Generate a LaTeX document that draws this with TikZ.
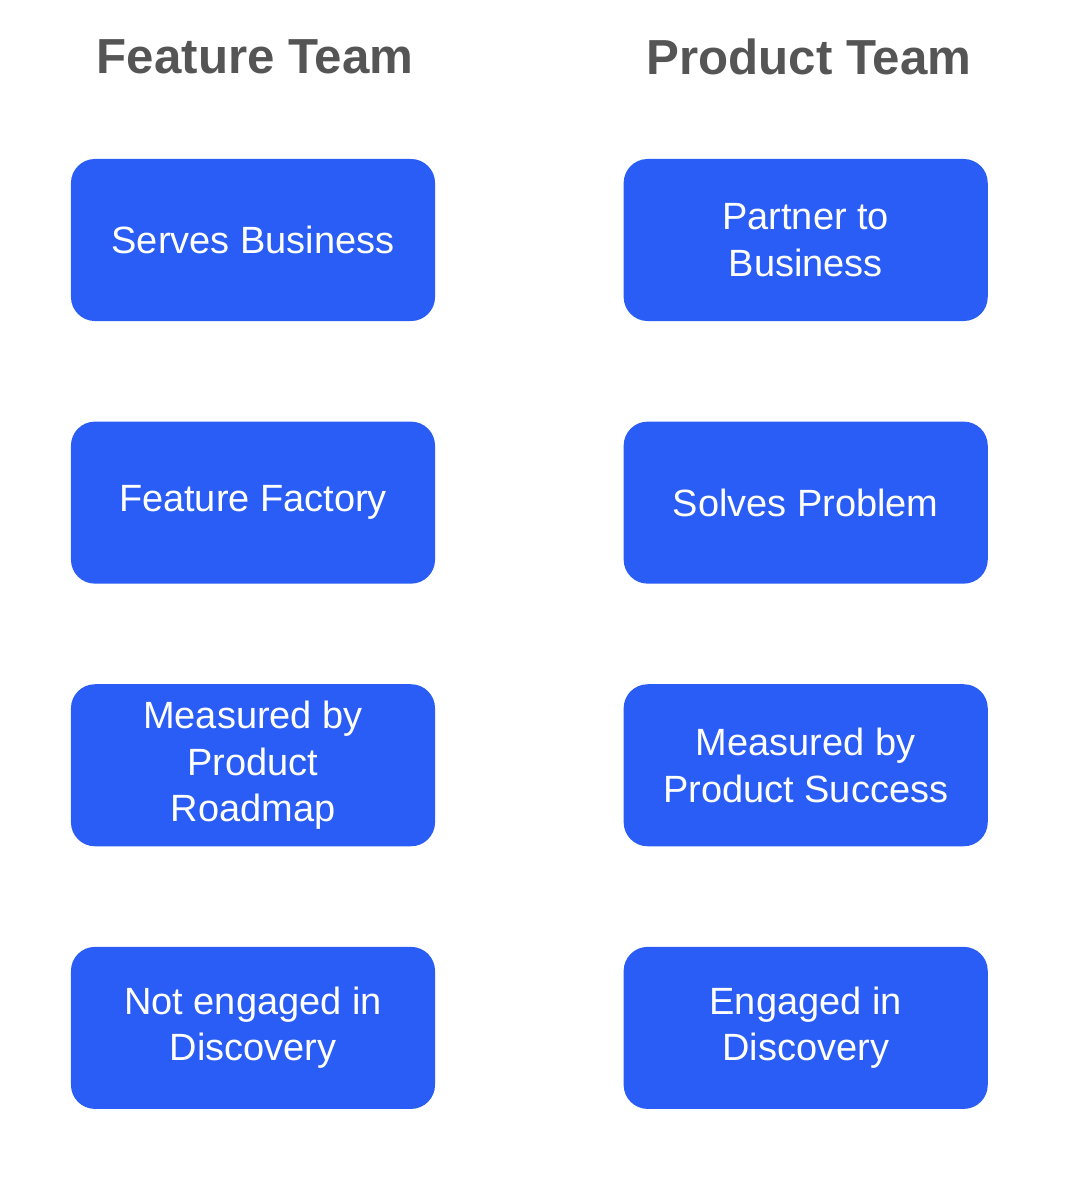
\documentclass[tikz,border=0pt]{standalone}
\usepackage{fontspec}
\setmainfont{Liberation Sans}
\usetikzlibrary{positioning}
\definecolor{boxblue}{HTML}{2A5DF5}
\definecolor{headgrey}{HTML}{555555}

\begin{document}
\begin{tikzpicture}[x=0.025cm,y=-0.025cm]
\tikzset{card/.style={rectangle,rounded corners=0.6cm,fill=boxblue,text=white,align=center,
  minimum width=9.1cm,minimum height=4.05cm,font=\fontsize{27}{33}\selectfont},
  head/.style={text=headgrey,font=\fontsize{35}{40}\selectfont\bfseries}}
\useasboundingbox (0,0) rectangle (1074,1190);

  \node [head] (feature) at (255,57) {Feature Team};
  \node [head] (product) at (809,57) {Product Team};

  \node [card] (serves) at (253,240) {Serves Business};
  \node [card, below=2.5cm of serves] (factory) {Feature Factory};
  \node [card, below=2.5cm of factory] (roadmap) {Measured by\\Product\\Roadmap};
  \node [card, below=2.5cm of roadmap] (notengaged) {Not engaged in\\Discovery};

  \node [card, right=4.7cm of serves] (partner) {Partner to\\Business};
  \node [card, below=2.5cm of partner] (solves) {Solves Problem};
  \node [card, below=2.5cm of solves] (success) {Measured by\\Product Success};
  \node [card, below=2.5cm of success] (engaged) {Engaged in\\Discovery};

\end{tikzpicture}
\end{document}
